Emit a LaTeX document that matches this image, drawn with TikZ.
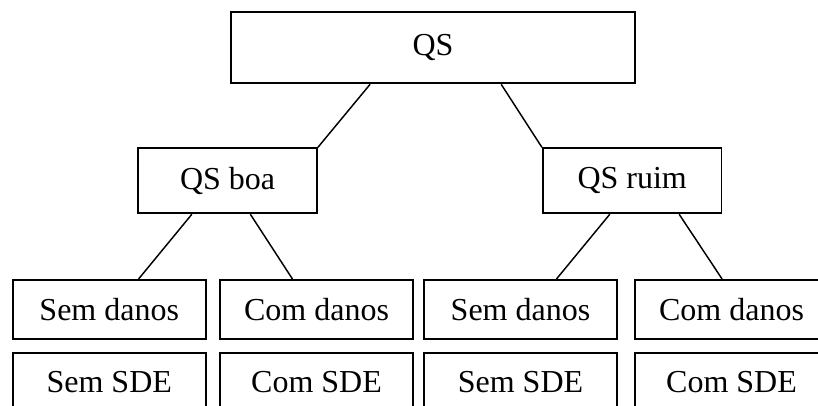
\documentclass[tikz,border=0pt]{standalone}
\usepackage{fontspec}
\setmainfont{Liberation Serif}
\usetikzlibrary{calc}

\begin{document}
\begin{tikzpicture}[x=0.75pt,y=-0.75pt,
		caixa/.style={draw,line width=1.4pt,inner sep=0pt,font=\fontsize{24}{28}\selectfont},
		topo/.style={caixa,minimum width=303pt,minimum height=53.5pt},
		meio/.style={caixa,minimum width=134pt,minimum height=48.75pt},
		folha/.style={caixa,minimum width=145pt,minimum height=44.25pt},
		liga/.style={line width=1.1pt}]
	\useasboundingbox (0,0) rectangle (818,405);
	\clip (0,0) rectangle (818,405);
				% raiz
				\node[topo] (qs) at (433,47.7){QS};
				% segundo nivel
				\node[meio] (boa) at (227.6,180.8){QS boa};
				\node[meio] (ruim) at (632.2,180.8){QS ruim};
				% danos
				\node[folha] (d1) at (109.25,309.5){Sem danos};
				\node[folha] (d2) at (316.5,309.5){Com danos};
				\node[folha] (d3) at (520.5,309.5){Sem danos};
				\node[folha] (d4) at (731.5,309.5){Com danos};
				% SDE
				\node[folha] (s1) at (109.25,382.5){Sem SDE};
				\node[folha] (s2) at (316.5,382.5){Com SDE};
				\node[folha] (s3) at (520.5,382.5){Sem SDE};
				\node[folha] (s4) at (731.5,382.5){Com SDE};
				% ligacoes
				\draw[liga] ($(qs.south west)!.345!(qs.south east)$) -- (boa.north east);
				\draw[liga] ($(qs.south west)!.668!(qs.south east)$) -- (ruim.north west);
				\draw[liga] ($(boa.south west)!.302!(boa.south east)$) -- ($(d1.north west)!.65!(d1.north east)$);
				\draw[liga] ($(boa.south west)!.626!(boa.south east)$) -- ($(d2.north west)!.377!(d2.north east)$);
				\draw[liga] ($(ruim.south west)!.376!(ruim.south east)$) -- ($(d3.north west)!.684!(d3.north east)$);
				\draw[liga] ($(ruim.south west)!.76!(ruim.south east)$) -- ($(d4.north west)!.452!(d4.north east)$);
\end{tikzpicture}
\end{document}
